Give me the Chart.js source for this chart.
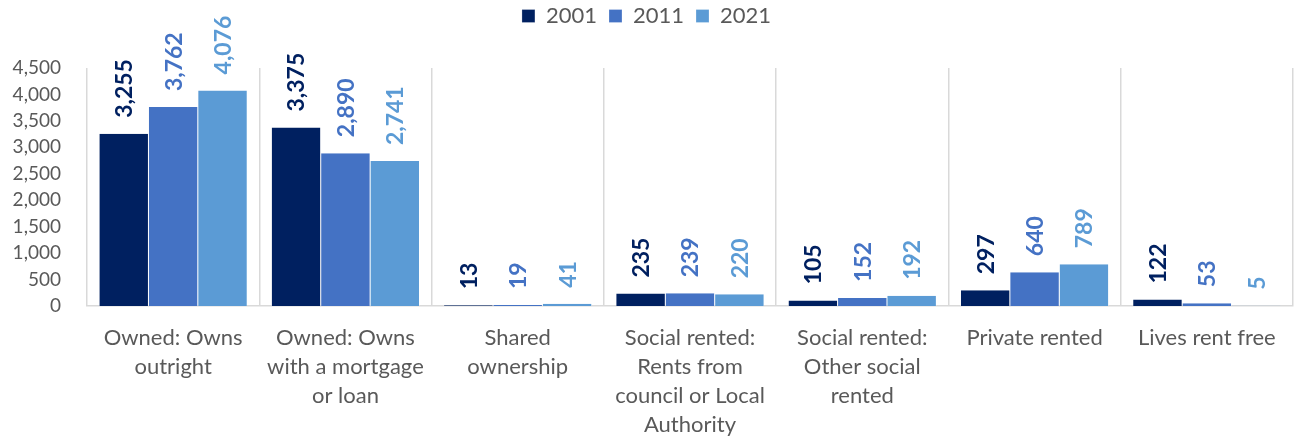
<!DOCTYPE html>
<html lang="en">
<head>
    <meta charset="UTF-8">
    <title>Tenure by year</title>
    <script src="https://cdn.jsdelivr.net/npm/chart.js"></script>
    <style>
        html, body { margin: 0; padding: 0; background: #fff; }
        .canvas-container { width: 1296px; height: 436px; }
    </style>
</head>
<body>

<div class="canvas-container">
    <canvas id="tenureChart" width="1296" height="436"></canvas>
</div>

<script>
    // Tenure categories (multi-line labels as shown under the axis)
    const categories = [
        ['Owned: Owns', 'outright'],
        ['Owned: Owns', 'with a mortgage', 'or loan'],
        ['Shared', 'ownership'],
        ['Social rented:', 'Rents from', 'council or Local', 'Authority'],
        ['Social rented:', 'Other social', 'rented'],
        ['Private rented'],
        ['Lives rent free']
    ];

    const years = ['2001', '2011', '2021'];
    const values2001 = [3255, 3375, 13, 235, 105, 297, 122];
    const values2011 = [3762, 2890, 19, 239, 152, 640, 53];
    const values2021 = [4076, 2741, 41, 220, 192, 789, 5];
    const colors = ['#002060', '#4472C4', '#5B9BD5'];

    const fontFamily = 'Lato, "Open Sans", sans-serif';
    const textGray = '#595959';

    const datasets = [values2001, values2011, values2021].map((vals, i) => ({
        label: years[i],
        data: vals,
        backgroundColor: colors[i],
        borderColor: '#ffffff',
        borderWidth: { left: 0.5, right: 0.5, top: 0, bottom: 0 },
        categoryPercentage: 0.86,
        barPercentage: 1.0
    }));

    // Rotated value labels above each bar
    const valueLabels = {
        id: 'valueLabels',
        afterDatasetsDraw(chart) {
            const ctx = chart.ctx;
            ctx.save();
            ctx.font = 'bold 23px ' + fontFamily;
            ctx.textAlign = 'left';
            ctx.textBaseline = 'middle';
            chart.data.datasets.forEach((ds, di) => {
                const meta = chart.getDatasetMeta(di);
                meta.data.forEach((bar, idx) => {
                    ctx.save();
                    ctx.fillStyle = colors[di];
                    ctx.translate(bar.x + 1, bar.y - 16);
                    ctx.rotate(-Math.PI / 2);
                    ctx.fillText(ds.data[idx].toLocaleString('en-US'), 0, 0);
                    ctx.restore();
                });
            });
            ctx.restore();
        }
    };

    // Legend row: reserve room above the plot for the value labels,
    // and keep the legend items near the top edge
    const legendSpace = {
        id: 'legendSpace',
        beforeInit(chart) {
            const fit = chart.legend.fit;
            chart.legend.fit = function () {
                fit.call(this);
                this.height = 68;
            };
        },
        afterLayout(chart) {
            chart.legend.top -= 7;
            chart.legend.bottom -= 7;
        }
    };

    const ctx = document.getElementById('tenureChart').getContext('2d');

    const tenureChart = new Chart(ctx, {
        type: 'bar',
        data: {
            labels: categories,
            datasets: datasets
        },
        plugins: [valueLabels, legendSpace],
        options: {
            responsive: false,
            animation: false,
            layout: {
                padding: { top: 0, right: 3, left: 0, bottom: 0 }
            },
            plugins: {
                legend: {
                    display: true,
                    position: 'top',
                    labels: {
                        boxWidth: 13,
                        boxHeight: 13,
                        padding: 12,
                        color: textGray,
                        font: { family: fontFamily, size: 22 }
                    }
                },
                tooltip: { enabled: false }
            },
            scales: {
                y: {
                    min: 0,
                    max: 4500,
                    ticks: {
                        stepSize: 500,
                        color: textGray,
                        padding: 18,
                        font: { family: fontFamily, size: 19 },
                        callback: v => v.toLocaleString('en-US')
                    },
                    grid: { display: false },
                    border: { display: false },
                    afterFit(scale) { scale.width = 87; }
                },
                x: {
                    ticks: {
                        color: textGray,
                        padding: 17,
                        maxRotation: 0,
                        font: { family: fontFamily, size: 22, lineHeight: 1.32 }
                    },
                    grid: {
                        display: true,
                        offset: true,
                        color: '#d9d9d9',
                        lineWidth: 1.5,
                        drawTicks: false
                    },
                    border: { display: true, color: '#d9d9d9', width: 1.5 },
                    afterFit(scale) { scale.height = 130; }
                }
            }
        }
    });
</script>

</body>
</html>
